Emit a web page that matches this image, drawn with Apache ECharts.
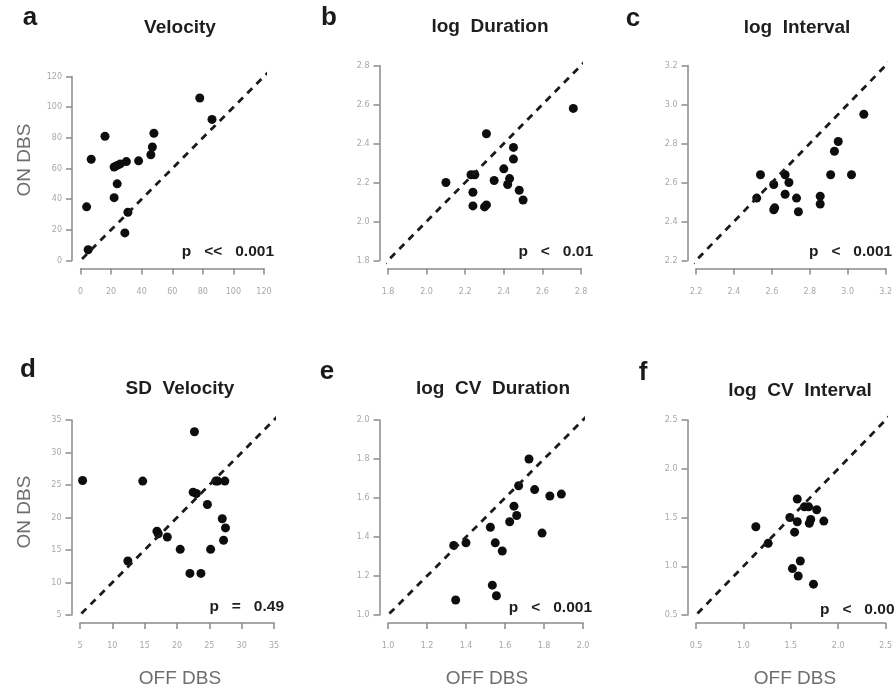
<!DOCTYPE html>
<html><head><meta charset="utf-8">
<script src="https://cdn.jsdelivr.net/npm/echarts@6/dist/echarts.min.js"></script>
<style>html,body{margin:0;padding:0;background:#fff;overflow:hidden}#c{width:895px;height:687px}</style>
</head><body><div id="c"></div>
<script>
// ---- data (OFF DBS = x, ON DBS = y) ----
const velocityOff = [4, 5, 7, 16, 22, 24, 26, 30, 38, 24, 22, 29, 31, 46, 47, 48, 78, 86];
const velocityOn  = [35, 7, 66, 81, 61, 62, 63, 64.5, 65, 50, 41, 18, 31.5, 69, 74, 83, 106, 92];

const durationOff = [2.10, 2.23, 2.25, 2.24, 2.24, 2.30, 2.31, 2.31, 2.35, 2.40, 2.43, 2.42, 2.45, 2.45, 2.48, 2.50, 2.76];
const durationOn  = [2.20, 2.24, 2.24, 2.15, 2.08, 2.075, 2.085, 2.45, 2.21, 2.27, 2.22, 2.19, 2.38, 2.32, 2.16, 2.11, 2.58];

const intervalOff = [2.52, 2.54, 2.61, 2.61, 2.615, 2.67, 2.67, 2.69, 2.73, 2.74, 2.855, 2.855, 2.91, 2.93, 2.95, 3.02, 3.085];
const intervalOn  = [2.52, 2.64, 2.59, 2.46, 2.47, 2.64, 2.54, 2.60, 2.52, 2.45, 2.53, 2.49, 2.64, 2.76, 2.81, 2.64, 2.95];

const sdVelocityOff = [5.4, 12.4, 14.7, 16.9, 17.1, 18.5, 20.5, 22.0, 22.7, 22.5, 23.0, 23.7, 24.7, 25.2, 26.0, 26.3, 27.4, 27.0, 27.5, 27.2];
const sdVelocityOn  = [25.7, 13.3, 25.6, 17.9, 17.5, 17.0, 15.1, 11.4, 33.2, 23.9, 23.7, 11.4, 22.0, 15.1, 25.6, 25.6, 25.6, 19.8, 18.4, 16.5];

const cvDurationOff = [1.337, 1.347, 1.40, 1.525, 1.535, 1.55, 1.556, 1.586, 1.624, 1.646, 1.66, 1.67, 1.723, 1.752, 1.79, 1.83, 1.889];
const cvDurationOn  = [1.357, 1.077, 1.37, 1.45, 1.153, 1.37, 1.099, 1.328, 1.478, 1.558, 1.51, 1.663, 1.80, 1.643, 1.42, 1.61, 1.62];

const cvIntervalOff = [1.131, 1.261, 1.49, 1.517, 1.54, 1.568, 1.568, 1.578, 1.60, 1.643, 1.688, 1.695, 1.71, 1.773, 1.739, 1.848];
const cvIntervalOn  = [1.405, 1.235, 1.50, 0.976, 1.35, 1.69, 1.456, 0.90, 1.054, 1.609, 1.609, 1.44, 1.48, 1.58, 0.816, 1.463];

// panel labels, titles, p values
const panelLetters = ['a', 'b', 'c', 'd', 'e', 'f'];
const panelTitles  = ['Velocity', 'log  Duration', 'log  Interval', 'SD  Velocity', 'log  CV  Duration', 'log  CV  Interval'];
const pTexts       = ['p   <<   0.001', 'p   <   0.01', 'p   <   0.001', 'p   =   0.49', 'p   <   0.001', 'p   <   0.001'];
// axis ticks (same on x and y)
const tickMin  = [0, 1.8, 2.2, 5, 1.0, 0.5];
const tickMax  = [120, 2.8, 3.2, 35, 2.0, 2.5];
const tickStep = [20, 0.2, 0.2, 5, 0.2, 0.5];
const tickDecimals = [0, 1, 1, 0, 1, 1];
// identity line (y = x) extent over each plot region
const diagFrom = [-5, 1.764, 2.164, 3.8, 0.96, 0.42];
const diagTo   = [131, 2.836, 3.236, 36.2, 2.04, 2.58];

const offSets = [velocityOff, durationOff, intervalOff, sdVelocityOff, cvDurationOff, cvIntervalOff];
const onSets  = [velocityOn, durationOn, intervalOn, sdVelocityOn, cvDurationOn, cvIntervalOn];

// ---- layout ----
const grids = [
  {left: 80.5, top: 76.5, width: 183.5, height: 184},
  {left: 388, top: 65.5, width: 193, height: 195},
  {left: 696, top: 65.5, width: 195, height: 195},
  {left: 80, top: 420, width: 194, height: 195},
  {left: 388, top: 420, width: 195, height: 195},
  {left: 696, top: 420, width: 195, height: 195}
];
const letterPos = [[30, 18], [329, 18], [633, 19], [28, 370], [327, 372], [643, 373]];
const titlePos  = [[180, 28], [490, 27], [797, 28], [180, 389], [493, 389], [800, 391]];
const pPos      = [[274, 252, 'right'], [593, 252, 'right'], [809, 252, 'left'], [284, 607, 'right'], [592, 608, 'right'], [820, 610, 'left']];

const chart = echarts.init(document.getElementById('c'), null, {renderer: 'canvas'});
const AX = '#8a8a8a';
const option = {
  backgroundColor: '#fff',
  animation: false,
  grid: grids,
  xAxis: [], yAxis: [], series: [], graphic: []
};

for (let i = 0; i < 6; i++) {
  const fmt = v => Number(v).toFixed(tickDecimals[i]);
  const common = {
    type: 'value', gridIndex: i, min: tickMin[i], max: tickMax[i], interval: tickStep[i],
    splitLine: {show: false},
    axisLine: {show: true, onZero: false, lineStyle: {color: AX, width: 1.5}},
    axisTick: {show: true, length: 6, lineStyle: {color: AX, width: 1.5}},
  };
  option.xAxis.push(Object.assign({}, common, {
    position: 'bottom', offset: 8,
    axisLabel: {formatter: fmt, color: '#a8a8a8', fontSize: 8, fontFamily: 'DejaVu Sans', margin: 19, showMinLabel: true, showMaxLabel: true}
  }));
  option.yAxis.push(Object.assign({}, common, {
    position: 'left', offset: 8.5,
    axisLabel: {formatter: fmt, color: '#a8a8a8', fontSize: 8, fontFamily: 'DejaVu Sans', margin: 10, showMinLabel: true, showMaxLabel: true}
  }));
  option.series.push({
    type: 'line', xAxisIndex: i, yAxisIndex: i, clip: false, symbol: 'none', silent: true,
    data: [[diagFrom[i], diagFrom[i]], [diagTo[i], diagTo[i]]],
    lineStyle: {color: '#1a1a1a', width: 2.8, type: [7, 6]}
  });
  option.series.push({
    type: 'scatter', xAxisIndex: i, yAxisIndex: i, symbol: 'circle', symbolSize: 9,
    itemStyle: {color: '#0d0d0d', opacity: 1},
    data: offSets[i].map((x, k) => [x, onSets[i][k]])
  });
  option.graphic.push({
    type: 'text', x: letterPos[i][0], y: letterPos[i][1],
    style: {text: panelLetters[i], fill: '#1a1a1a', font: 'bold 26px "Liberation Sans", Arial, sans-serif', textAlign: 'center', textVerticalAlign: 'middle'}
  });
  option.graphic.push({
    type: 'text', x: titlePos[i][0], y: titlePos[i][1],
    style: {text: panelTitles[i], fill: '#1e1e1e', font: 'bold 19px "Liberation Sans", Arial, sans-serif', textAlign: 'center', textVerticalAlign: 'middle'}
  });
  option.graphic.push({
    type: 'text', x: pPos[i][0], y: pPos[i][1],
    style: {text: pTexts[i], fill: '#1e1e1e', font: 'bold 15.5px "Liberation Sans", Arial, sans-serif', textAlign: pPos[i][2], textVerticalAlign: 'middle'}
  });
}
// axis names
[[25, 160], [25, 512]].forEach(p => option.graphic.push({
  type: 'text', x: p[0], y: p[1], rotation: Math.PI / 2,
  style: {text: 'ON DBS', fill: '#6e6e6e', font: '19px "Liberation Sans", Arial, sans-serif', textAlign: 'center', textVerticalAlign: 'middle'}
}));
[[180, 679], [487, 679], [795, 679]].forEach(p => option.graphic.push({
  type: 'text', x: p[0], y: p[1],
  style: {text: 'OFF DBS', fill: '#6e6e6e', font: '19px "Liberation Sans", Arial, sans-serif', textAlign: 'center', textVerticalAlign: 'middle'}
}));

chart.setOption(option);
</script></body></html>
